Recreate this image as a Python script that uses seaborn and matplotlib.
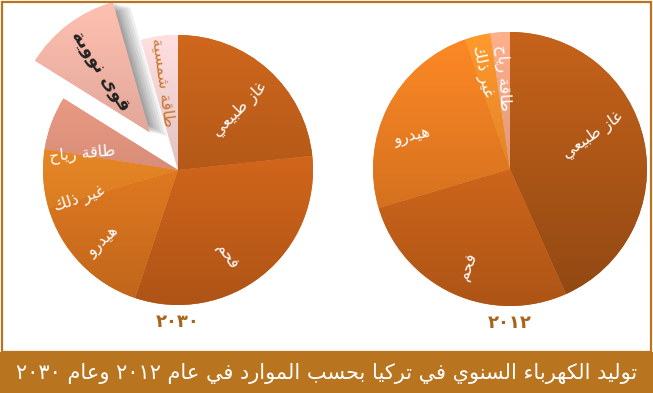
import re
import numpy as np
import matplotlib
matplotlib.use("Agg")
import matplotlib.pyplot as plt
from matplotlib.patches import Rectangle, Wedge
import seaborn as sns

# ---- data -------------------------------------------------------------
title = "توليد الكهرباء السنوي في تركيا بحسب الموارد في عام ٢٠١٢ وعام ٢٠٣٠"

year_2012 = "٢٠١٢"
labels_2012 = ["غاز طبيعي", "فحم", "هيدرو", "غير ذلك", "طاقة رياح"]
values_2012 = [43.3, 27.1, 24.3, 3.0, 2.3]

year_2030 = "٢٠٣٠"
labels_2030 = ["غاز طبيعي", "فحم", "هيدرو", "غير ذلك", "طاقة رياح", "قوى نووية", "طاقة شمسية"]
values_2030 = [23.3, 31.8, 15.3, 7.0, 6.4, 11.7, 4.4]

# ---- styles -----------------------------------------------------------
colors_2012 = ["#b45a18", "#d86a1c", "#ec7d22", "#f58c28", "#f2a080"]
colors_2030 = ["#bd5e1a", "#d9691c", "#ef7f22", "#f68a26", "#e3957f", "#f7b0a2", "#f6cbcb"]
explode_2030 = [0, 0, 0, 0, 0, 0.35, 0]

# label placement: (radius fraction, angle offset from slice middle, rotation)
place_2012 = [(0.65, 10, 35), (0.77, 1, 70), (0.75, 9, 12), (0.74, 2, -78), (0.67, 0, -87)]
place_2030 = [(0.64, -4, 45), (0.74, -9, -55), (0.77, 0, 42), (0.76, 13, 18),
              (0.72, 11, 5), (0.58, 1.5, -57), (0.66, 2, -82)]
text_2030 = ["white"] * 5 + ["#222222", "#c8772e"]
weight_2030 = ["normal"] * 5 + ["bold", "normal"]

BROWN = "#b8741f"

# ---- minimal arabic shaping (matplotlib has no bidi / joining) ---------
DUAL = {"ب": 0xFE8F, "ت": 0xFE95, "ح": 0xFEA1, "س": 0xFEB1, "ش": 0xFEB5, "ط": 0xFEC1,
        "ع": 0xFEC9, "غ": 0xFECD, "ف": 0xFED1, "ق": 0xFED5, "ك": 0xFED9, "ل": 0xFEDD,
        "م": 0xFEE1, "ن": 0xFEE5, "ه": 0xFEE9, "ي": 0xFEF1}
RIGHT = {"ا": 0xFE8D, "ة": 0xFE93, "د": 0xFEA9, "ذ": 0xFEAB, "ر": 0xFEAD, "ز": 0xFEAF,
         "و": 0xFEED, "ى": 0xFEEF}


def shape(s):
    out = []
    for i, ch in enumerate(s):
        if ch == "ء":
            out.append("\uFE80")
            continue
        if ch in DUAL:
            base, dual = DUAL[ch], True
        elif ch in RIGHT:
            base, dual = RIGHT[ch], False
        else:
            out.append(ch)
            continue
        prev = s[i - 1] if i > 0 else ""
        nxt = s[i + 1] if i + 1 < len(s) else ""
        jp = prev in DUAL
        jn = dual and (nxt in DUAL or nxt in RIGHT)
        if jp and jn:
            out.append(chr(base + 3))
        elif jp:
            out.append(chr(base + 1))
        elif jn:
            out.append(chr(base + 2))
        else:
            out.append(chr(base))
    return "".join(out)


def ar(s):
    parts = re.split(r"([\u0660-\u0669]+)", shape(s))
    return "".join(p if re.fullmatch(r"[\u0660-\u0669]+", p) else p[::-1] for p in reversed(parts))


# ---- figure -----------------------------------------------------------
sns.set_style("white")
plt.rcParams["font.family"] = ["DejaVu Sans"]

W, H = 653, 393
fig = plt.figure(figsize=(W / 100, H / 100), dpi=100)
fig.patch.set_facecolor("white")

# frame + banner
fig.add_artist(Rectangle((1.5 / W, (H - 352) / H), (W - 3.5) / W, 350.5 / H,
                         transform=fig.transFigure, fill=False, ec=BROWN, lw=1.6))
fig.add_artist(Rectangle((0, 0), 1, (H - 352) / H, transform=fig.transFigure,
                         fc=BROWN, ec="none"))
fig.text(0.5, (H - 373) / H, ar(title), color="white", fontsize=15,
         ha="center", va="center")


def draw_pie(cx, cy, R, values, labels, colors, place, explode=None,
             tcolors=None, weights=None, year=""):
    k = 1.5
    S = 2 * R * k
    ax = fig.add_axes([(cx - S / 2) / W, (H - cy - S / 2) / H, S / W, S / H])
    ax.set_axis_off()
    wedges, _ = ax.pie(values, colors=colors, startangle=90, counterclock=False,
                       explode=explode, wedgeprops=dict(lw=0))
    for w, c in zip(wedges, colors):
        rgb = np.array(matplotlib.colors.to_rgb(c))
        top = np.clip(rgb * 1.1, 0, 1)
        bot = rgb * 0.8
        cmap = sns.blend_palette([top, bot], as_cmap=True)
        wx, wy = w.center
        im = ax.imshow(np.linspace(0, 1, 256).reshape(-1, 1), cmap=cmap, aspect="auto",
                       extent=[wx - 1.1, wx + 1.1, wy - 1.0, wy + 1.0], origin="upper",
                       zorder=2)
        im.set_clip_path(w)
    if explode is not None:
        for i, e in enumerate(explode):
            if e:
                w = wedges[i]
                for ox in [0.13, 0.11, 0.09, 0.07, 0.05, 0.035, 0.02]:
                    ax.add_patch(Wedge((w.center[0] + ox, w.center[1] - ox * 0.25), w.r,
                                       w.theta1, w.theta2, fc="#202020", ec="none",
                                       alpha=0.07, zorder=0.5))
    for i, (w, lab) in enumerate(zip(wedges, labels)):
        r, dth, rot = place[i]
        th = np.deg2rad((w.theta1 + w.theta2) / 2 + dth)
        wx, wy = w.center
        bold = weights is not None and weights[i] == "bold"
        ax.text(wx + r * np.cos(th), wy + r * np.sin(th), ar(lab),
                color=tcolors[i] if tcolors else "white",
                fontweight="bold" if bold else "normal",
                fontsize=13 if bold else 11.5,
                rotation=rot, ha="center", va="center", rotation_mode="anchor", zorder=5)
    ax.text(0, -1.125, year, color="#a8641a", fontsize=13, fontweight="bold",
            ha="center", va="center")
    ax.set_xlim(-k, k)
    ax.set_ylim(-k, k)
    ax.set_aspect("equal")
    return ax


draw_pie(178, 170, 135, values_2030, labels_2030, colors_2030, place_2030,
         explode=explode_2030, tcolors=text_2030, weights=weight_2030, year=year_2030)
draw_pie(510, 169, 137, values_2012, labels_2012, colors_2012, place_2012, year=year_2012)

fig.savefig("out.png", dpi=100, facecolor="white")
